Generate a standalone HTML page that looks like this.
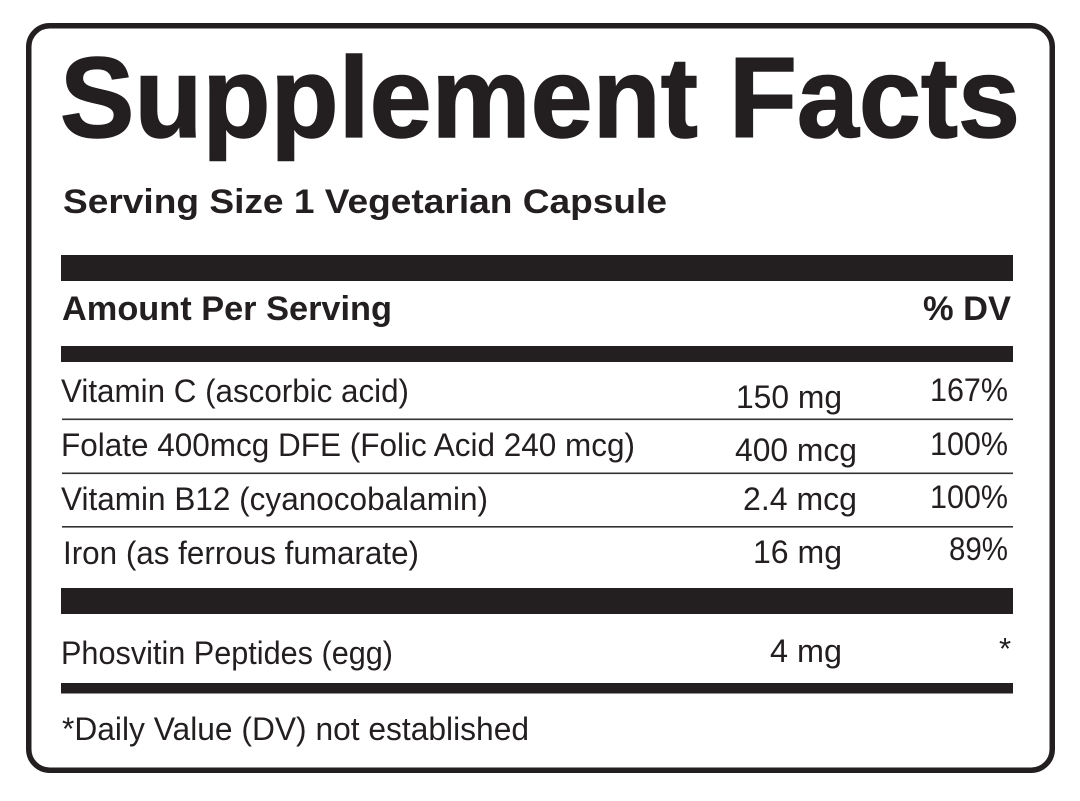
<!DOCTYPE html>
<html>
<head>
<meta charset="utf-8">
<style>
  html, body { margin: 0; padding: 0; background: #ffffff; }
  body { width: 1080px; height: 801px; overflow: hidden; }
  svg { display: block; }
  text { font-family: "Liberation Sans", Arial, sans-serif; fill: #231f20; }
  .b { font-weight: bold; }
</style>
</head>
<body>
<svg width="1080" height="801" viewBox="0 0 1080 801" xmlns="http://www.w3.org/2000/svg">
  <rect x="0" y="0" width="1080" height="801" fill="#ffffff"/>
  <!-- outer rounded border -->
  <rect x="28.75" y="25.75" width="1023.5" height="744.5" rx="21" ry="21" fill="none" stroke="#231f20" stroke-width="5.5"/>

  <!-- Title -->
  <text class="b" x="60" y="137" font-size="114" textLength="960" lengthAdjust="spacingAndGlyphs" stroke="#231f20" stroke-width="1.5">Supplement Facts</text>

  <!-- Serving size -->
  <text class="b" x="63" y="213" font-size="34" textLength="604" lengthAdjust="spacingAndGlyphs">Serving Size 1 Vegetarian Capsule</text>

  <!-- Bar 1 -->
  <rect x="61" y="255" width="952" height="26" fill="#231f20"/>

  <!-- Header row -->
  <text class="b" x="62" y="320" font-size="34" textLength="330" lengthAdjust="spacingAndGlyphs">Amount Per Serving</text>
  <text class="b" x="923" y="320" font-size="34" textLength="88" lengthAdjust="spacingAndGlyphs">% DV</text>

  <!-- Bar 2 -->
  <rect x="61" y="346" width="952" height="16" fill="#231f20"/>

  <!-- Row 1 -->
  <text x="61" y="402" font-size="32" textLength="348" lengthAdjust="spacingAndGlyphs">Vitamin C (ascorbic acid)</text>
  <text x="736" y="408" font-size="32" textLength="106" lengthAdjust="spacingAndGlyphs">150 mg</text>
  <text x="930" y="401" font-size="32" textLength="78" lengthAdjust="spacingAndGlyphs">167%</text>
  <rect x="62" y="418.5" width="951" height="1.6" fill="#333333"/>

  <!-- Row 2 -->
  <text x="61" y="456" font-size="32" textLength="574" lengthAdjust="spacingAndGlyphs">Folate 400mcg DFE (Folic Acid 240 mcg)</text>
  <text x="735" y="461" font-size="32" textLength="122" lengthAdjust="spacingAndGlyphs">400 mcg</text>
  <text x="930" y="455" font-size="32" textLength="78" lengthAdjust="spacingAndGlyphs">100%</text>
  <rect x="62" y="472.5" width="951" height="1.6" fill="#333333"/>

  <!-- Row 3 -->
  <text x="61" y="510" font-size="32" textLength="427" lengthAdjust="spacingAndGlyphs">Vitamin B12 (cyanocobalamin)</text>
  <text x="743" y="510" font-size="32" textLength="114" lengthAdjust="spacingAndGlyphs">2.4 mcg</text>
  <text x="930" y="508" font-size="32" textLength="78" lengthAdjust="spacingAndGlyphs">100%</text>
  <rect x="62" y="526" width="951" height="1.6" fill="#333333"/>

  <!-- Row 4 -->
  <text x="63" y="564" font-size="32" textLength="356" lengthAdjust="spacingAndGlyphs">Iron (as ferrous fumarate)</text>
  <text x="753" y="563" font-size="32" textLength="89" lengthAdjust="spacingAndGlyphs">16 mg</text>
  <text x="949" y="560" font-size="32" textLength="59" lengthAdjust="spacingAndGlyphs">89%</text>

  <!-- Bar 3 -->
  <rect x="61" y="588" width="952" height="26" fill="#231f20"/>

  <!-- Phosvitin row -->
  <text x="61" y="664" font-size="32" textLength="332" lengthAdjust="spacingAndGlyphs">Phosvitin Peptides (egg)</text>
  <text x="770" y="662" font-size="32" textLength="72" lengthAdjust="spacingAndGlyphs">4 mg</text>
  <text x="999" y="659" font-size="31">*</text>

  <!-- Bar 4 -->
  <rect x="61" y="683" width="952" height="10.5" fill="#231f20"/>

  <!-- Footnote -->
  <text x="62" y="740" font-size="32" textLength="467" lengthAdjust="spacingAndGlyphs">*Daily Value (DV) not established</text>
</svg>
</body>
</html>
